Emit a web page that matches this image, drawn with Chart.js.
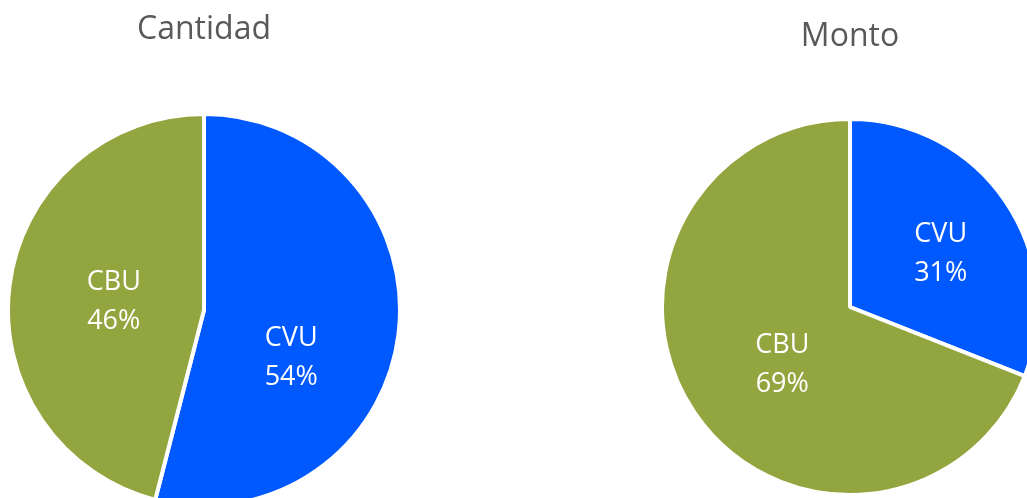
<!DOCTYPE html>
<html>
<head>
<meta charset="utf-8">
<script src="https://cdn.jsdelivr.net/npm/chart.js@4/dist/chart.umd.min.js"></script>
<style>
  html, body { margin: 0; padding: 0; width: 1027px; height: 498px; overflow: hidden; background: #fff; }
  .box { position: absolute; top: 0; }
</style>
</head>
<body>
<div class="box" style="left:6px"><canvas id="cantidad" width="396" height="508"></canvas></div>
<div class="box" style="left:660px"><canvas id="monto" width="380" height="497"></canvas></div>
<script>
var labels = ["CVU", "CBU"];
var cantidadPct = [54, 46];
var montoPct = [31, 69];
var colors = ["#0059FF", "#93A53E"];

// draws "CVU / 54%" inside each slice
var sliceLabels = {
  id: "sliceLabels",
  afterDatasetsDraw: function (chart, args, opts) {
    var ctx = chart.ctx;
    var meta = chart.getDatasetMeta(0);
    var values = chart.data.datasets[0].data;
    ctx.save();
    ctx.fillStyle = "#ffffff";
    ctx.font = "27px 'Open Sans'";
    ctx.textAlign = "center";
    ctx.textBaseline = "middle";
    meta.data.forEach(function (arc, i) {
      var p = arc.getProps(["x", "y", "startAngle", "endAngle", "outerRadius"], true);
      var mid = (p.startAngle + p.endAngle) / 2;
      var d = p.outerRadius * 0.5;
      var nudge = opts.nudge[i];
      var x = p.x + Math.cos(mid) * d + nudge[0];
      var y = p.y + Math.sin(mid) * d + nudge[1];
      ctx.fillText(chart.data.labels[i], x, y - 19);
      ctx.fillText(values[i] + "%", x, y + 20);
    });
    ctx.restore();
  }
};

function makePie(id, title, data, titlePad, nudge) {
  var ctx = document.getElementById(id).getContext("2d");
  return new Chart(ctx, {
    type: "pie",
    data: {
      labels: labels,
      datasets: [
        {
          data: data,
          backgroundColor: colors,
          borderColor: "#ffffff",
          borderWidth: 4,
        },
      ],
    },
    options: {
      responsive: false,
      animation: false,
      layout: { padding: 0 },
      plugins: {
        legend: { display: false },
        tooltip: { enabled: false },
        title: {
          display: true,
          text: title,
          color: "#595959",
          font: { family: "'Open Sans'", size: 32, weight: "normal" },
          padding: titlePad,
        },
        sliceLabels: { nudge: nudge },
      },
    },
    plugins: [sliceLabels],
  });
}

// title box height = top + 38.4 + bottom = top of pie area
makePie("cantidad", "Cantidad", cantidadPct, { top: 11, bottom: 62.6 }, [[-10, 35], [7, 4]]);
makePie("monto", "Monto", montoPct, { top: 18, bottom: 60.6 }, [[13, -1], [10, 4]]);
</script>
</body>
</html>
